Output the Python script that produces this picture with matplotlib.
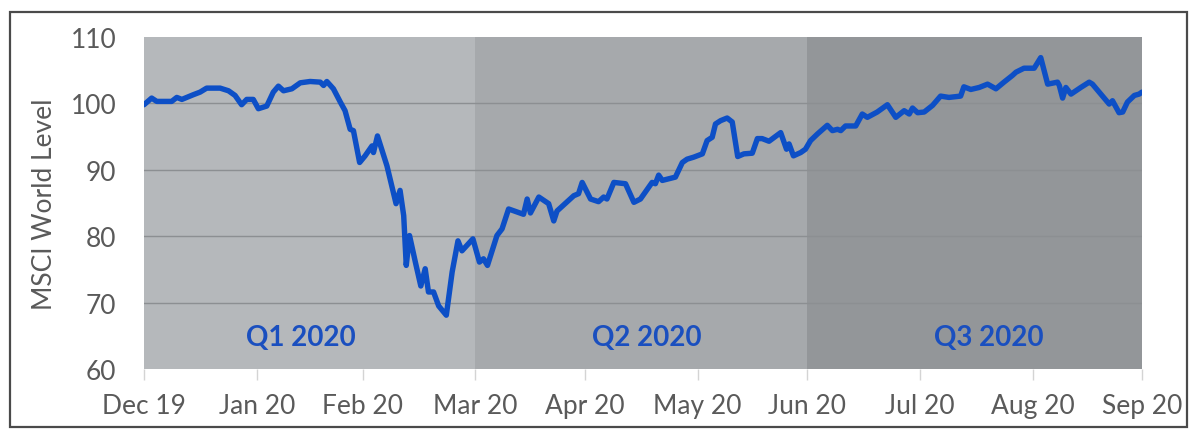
import matplotlib
matplotlib.use("Agg")
import matplotlib.pyplot as plt
import matplotlib.dates as mdates
from matplotlib.patches import Rectangle
import pandas as pd

# ---- data ----
start_date = "2019-12-31"
day_offsets = [0.0, 2.1, 3.5, 7.6, 9.0, 10.4, 13.5, 15.4, 17.2, 20.9, 23.2, 25.0, 26.8, 28.2, 30.0,
               31.4, 33.7, 35.5, 36.9, 38.3, 40.6, 42.9, 45.6, 48.4, 49.3, 50.2, 52.0, 53.9, 55.2,
               56.6, 57.5, 59.2, 60.7, 62.6, 63.0, 64.1, 66.7, 69.2, 70.3, 71.3, 72.0, 72.9, 74.5,
               76.0, 77.2, 78.1, 79.5, 80.9, 83.0, 84.6, 86.2, 87.3, 90.3, 92.1, 93.2, 94.3, 96.9,
               98.3, 100.1, 104.2, 105.2, 106.1, 108.4, 111.1, 112.5, 113.4, 118.0, 119.3, 120.3,
               122.6, 124.8, 126.2, 127.1, 129.0, 132.2, 134.5, 136.3, 139.5, 140.4, 141.3, 142.3,
               145.9, 147.8, 149.1, 150.9, 153.3, 154.6, 156.0, 156.9, 158.3, 160.1, 161.5, 163.0,
               164.7, 167.0, 168.4, 169.7, 171.6, 174.8, 176.4, 177.1, 178.3, 180.3, 181.6, 183.0,
               184.9, 187.6, 189.0, 190.4, 191.3, 192.6, 195.4, 197.2, 198.6, 201.3, 204.1, 206.4,
               208.7, 210.1, 211.0, 212.4, 214.2, 216.5, 218.7, 221.0, 224.2, 225.1, 227.0, 229.3,
               231.6, 233.9, 236.1, 238.4, 239.4, 241.6, 244.4, 246.2, 248.1, 250.8, 251.3, 252.2,
               253.1, 254.5, 257.2, 259.5, 260.4, 262.7, 265.0, 265.9, 267.7, 268.7, 270.0, 271.9,
               273.2, 274.0]
msci_level = [99.8, 100.8, 100.3, 100.3, 100.9, 100.6, 101.3, 101.7, 102.3, 102.3, 101.9, 101.2, 99.8,
              100.6, 100.6, 99.2, 99.6, 101.7, 102.6, 101.9, 102.2, 103.1, 103.3, 103.2, 102.7,
              103.3, 102.2, 100.2, 98.9, 96.1, 95.9, 91.1, 92.1, 93.6, 92.6, 95.1, 90.6, 84.9, 86.9,
              83.1, 75.6, 80.1, 76.1, 72.5, 75.1, 71.6, 71.6, 69.5, 68.1, 74.6, 79.3, 77.8, 79.6,
              76.1, 76.6, 75.6, 80.1, 81.1, 84.1, 83.3, 85.6, 83.5, 85.9, 84.9, 82.3, 83.8, 86.1,
              86.4, 88.1, 85.6, 85.2, 85.9, 85.6, 88.1, 87.9, 85.1, 85.6, 88.1, 87.9, 89.2, 88.4,
              88.9, 91.1, 91.6, 91.9, 92.4, 94.4, 94.9, 96.9, 97.4, 97.8, 97.2, 92.0, 92.4, 92.5,
              94.7, 94.7, 94.3, 95.6, 93.1, 93.9, 92.1, 92.6, 93.1, 94.4, 95.4, 96.7, 95.9, 96.1,
              95.9, 96.6, 96.6, 98.4, 97.9, 98.7, 99.8, 97.9, 98.9, 98.4, 99.3, 98.6, 98.7, 99.7,
              101.1, 100.9, 101.1, 102.5, 102.1, 102.4, 102.9, 102.2, 103.2, 104.2, 104.7, 105.3,
              105.3, 106.9, 102.9, 103.2, 102.7, 100.8, 102.4, 101.4, 102.4, 103.2, 102.9, 101.4,
              99.9, 100.4, 98.6, 98.7, 100.2, 101.2, 101.4, 101.7]

tick_dates = ["2019-12-31", "2020-01-31", "2020-02-29", "2020-03-31", "2020-04-30",
              "2020-05-31", "2020-06-30", "2020-07-31", "2020-08-31", "2020-09-30"]
tick_labels = ["Dec 19", "Jan 20", "Feb 20", "Mar 20", "Apr 20", "May 20", "Jun 20",
               "Jul 20", "Aug 20", "Sep 20"]

quarter_names = ["Q1 2020", "Q2 2020", "Q3 2020"]
quarter_bounds = [("2019-12-31", "2020-03-31"), ("2020-03-31", "2020-06-30"),
                  ("2020-06-30", "2020-09-30")]
quarter_label_dates = ["2020-02-12", "2020-05-17", "2020-08-19"]
quarter_colors = ["#b5b8bb", "#a6a9ac", "#939699"]

y_ticks = [60, 70, 80, 90, 100, 110]

# ---- figure ----
FONT = ["Lato", "DejaVu Sans"]
plt.rcParams["font.family"] = FONT

fig = plt.figure(figsize=(12, 4.39), dpi=100)
ax = fig.add_axes([144 / 1200, 1 - 370 / 439, (1142 - 144) / 1200, (370 - 38) / 439])

dates = pd.Timestamp(start_date) + pd.to_timedelta(day_offsets, unit="D")

for (a, b), c in zip(quarter_bounds, quarter_colors):
    ax.axvspan(pd.Timestamp(a), pd.Timestamp(b), color=c, lw=0, zorder=0)

for y in y_ticks[1:-1]:
    ax.axhline(y, color="#8c8f92", lw=1.0, zorder=1)

ax.plot(dates, msci_level, color="#0d4fc6", lw=3.9, solid_joinstyle="round",
        solid_capstyle="round", zorder=3)

for name, d in zip(quarter_names, quarter_label_dates):
    ax.text(pd.Timestamp(d), 64.8, name, ha="center", va="center", fontsize=20,
            fontweight="bold", color="#1a4fbf", zorder=4)

ax.set_ylim(60, 110)
ax.set_xlim(pd.Timestamp(tick_dates[0]), pd.Timestamp(tick_dates[-1]))
ax.set_yticks(y_ticks)
ax.set_xticks([pd.Timestamp(t) for t in tick_dates])
ax.set_xticklabels(tick_labels)
ax.tick_params(axis="y", length=0, pad=20, labelsize=19, labelcolor="#5a5a5a")
ax.tick_params(axis="x", length=8, width=1, color="#d4d4d4", pad=9, labelsize=19,
               labelcolor="#5a5a5a")
for s in ax.spines.values():
    s.set_visible(False)
ax.set_ylabel("MSCI World Level", fontsize=19, color="#5a5a5a", labelpad=10)

fig.patches.append(Rectangle((10 / 1200, 1 - 428 / 439), (1187 - 10) / 1200, (428 - 13) / 439,
                             transform=fig.transFigure, fill=False, edgecolor="#4a4a4a", lw=1.6))

fig.savefig("out.png", dpi=100)
